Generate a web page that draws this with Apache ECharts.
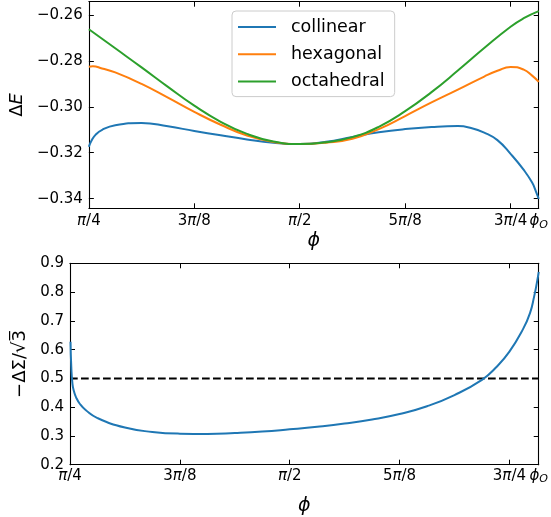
<!DOCTYPE html>
<html><head><meta charset="utf-8">
<script src="https://cdn.jsdelivr.net/npm/echarts@6/dist/echarts.min.js"></script>
<style>html,body{margin:0;padding:0;background:#fff}#c{width:551px;height:517px}</style>
</head><body><div id="c"></div><script>
// ---- data ----
const PHI_MIN = Math.PI / 4;
const PHI_O = 2.461;
const xTickValues = [Math.PI / 4, 3 * Math.PI / 8, Math.PI / 2, 5 * Math.PI / 8, 3 * Math.PI / 4, PHI_O];
const xTickLabels = ['π/4', '3π/8', 'π/2', '5π/8', '3π/4', 'ϕO'];
const topYTicks = [-0.34, -0.32, -0.30, -0.28, -0.26];
const botYTicks = [0.2, 0.3, 0.4, 0.5, 0.6, 0.7, 0.8, 0.9];
const seriesNames = ['collinear', 'hexagonal', 'octahedral'];

// top panel: collinear
const phiCol = [0.7854, 0.7950, 0.8100, 0.8350, 0.8836, 0.9817, 1.0799, 1.1781, 1.2763, 1.3744, 1.4726, 1.5708, 1.6690, 1.7671, 1.8653, 1.9635, 2.0617, 2.1598, 2.2089, 2.2580, 2.3071, 2.3562, 2.4053, 2.4364, 2.4511, 2.4610];
const collinear = [-0.3174, -0.3148, -0.3122, -0.3100, -0.3080, -0.3070, -0.3085, -0.3105, -0.3124, -0.3142, -0.3156, -0.3162, -0.3152, -0.3131, -0.3111, -0.3097, -0.3088, -0.3084, -0.3092, -0.3112, -0.3145, -0.3205, -0.3275, -0.3330, -0.3370, -0.3401];
// top panel: hexagonal
const phiHex = [0.7854, 0.8000, 0.8345, 0.8836, 0.9817, 1.0799, 1.1781, 1.2763, 1.3744, 1.4726, 1.5708, 1.6690, 1.7671, 1.8653, 1.9635, 2.0617, 2.1598, 2.2580, 2.3071, 2.3562, 2.4053, 2.4364, 2.4610];
const hexagonal = [-0.2825, -0.2823, -0.2833, -0.2850, -0.2900, -0.2960, -0.3022, -0.3078, -0.3125, -0.3153, -0.3162, -0.3156, -0.3139, -0.3097, -0.3040, -0.2981, -0.2925, -0.2868, -0.2843, -0.2826, -0.2838, -0.2864, -0.2891];
// top panel: octahedral
const phiOct = [0.7854, 0.8836, 0.9817, 1.0799, 1.1781, 1.2763, 1.3744, 1.4726, 1.5708, 1.6690, 1.7671, 1.8653, 1.9635, 2.0617, 2.1598, 2.2580, 2.3562, 2.4053, 2.4610];
const octahedral = [-0.2662, -0.2745, -0.2828, -0.2913, -0.2995, -0.3065, -0.3118, -0.3151, -0.3162, -0.3154, -0.3132, -0.3087, -0.3019, -0.2936, -0.2842, -0.2744, -0.2651, -0.2614, -0.2583];

// bottom panel
const phiBottom = [0.7872, 0.7900, 0.7943, 0.7996, 0.8067, 0.8209, 0.8423, 0.8836, 0.9817, 1.0799, 1.1781, 1.2763, 1.3744, 1.4726, 1.5708, 1.6690, 1.7671, 1.8653, 1.9635, 2.0617, 2.1598, 2.2580, 2.3071, 2.3562, 2.4053, 2.4298, 2.4447, 2.4540, 2.4610];
const sigma = [0.627, 0.540, 0.480, 0.455, 0.435, 0.411, 0.389, 0.362, 0.329, 0.314, 0.308, 0.307, 0.310, 0.315, 0.323, 0.332, 0.343, 0.357, 0.376, 0.403, 0.442, 0.495, 0.537, 0.593, 0.672, 0.727, 0.785, 0.830, 0.870];
const threshold = 0.5;

// ---- helpers ----
const FONT = 'DejaVu Sans';
const zip = (xs, ys) => xs.map((x, i) => [x, ys[i]]);
const richify = (s) => {
  if (s === 'ϕO') return '{p|ϕ}{s|O}';
  return s.split('').map(ch => ch === 'π' ? '{p|π}' : '{n|' + ch + '}').join('');
};
const xFmt = (v) => {
  for (let i = 0; i < xTickValues.length; i++) if (Math.abs(v - xTickValues[i]) < 1e-6) return richify(xTickLabels[i]);
  return '';
};
const xRich = {
  n: { fontFamily: FONT, fontSize: 15, color: '#000', lineHeight: 18 },
  p: { fontFamily: FONT, fontSize: 15, fontStyle: 'italic', color: '#000', lineHeight: 18 },
  s: { fontFamily: FONT, fontSize: 11, fontStyle: 'italic', color: '#000', lineHeight: 18, verticalAlign: 'bottom', padding: [6, 0, 0, 0] }
};
const tickStyle = { show: true, inside: true, length: 5, lineStyle: { color: '#000', width: 1 } };
const lineAx = { show: true, onZero: false, lineStyle: { color: '#000', width: 1.1 } };

function xAxes(grid, margin, nameGap) {
  return [{
    type: 'value', gridIndex: grid, min: PHI_MIN, max: PHI_O, position: 'bottom',
    axisLine: lineAx, splitLine: { show: false },
    axisTick: Object.assign({ customValues: xTickValues }, tickStyle),
    axisLabel: { customValues: xTickValues, formatter: xFmt, rich: xRich, margin: margin, hideOverlap: false },
    name: 'ϕ', nameLocation: 'middle', nameGap: nameGap,
    nameTextStyle: { fontFamily: FONT, fontStyle: 'italic', fontSize: 19, color: '#000' }
  }, {
    type: 'value', gridIndex: grid, min: PHI_MIN, max: PHI_O, position: 'top',
    axisLine: lineAx, splitLine: { show: false },
    axisTick: Object.assign({ customValues: xTickValues }, tickStyle),
    axisLabel: { show: false }
  }];
}

const lineSeries = (name, xs, ys, color) => ({
  name: name, type: 'line', xAxisIndex: 0, yAxisIndex: 0, data: zip(xs, ys),
  showSymbol: false, symbol: 'none', smooth: 0.5, color: color,
  lineStyle: { width: 2, color: color }
});

const chart = echarts.init(document.getElementById('c'), null, { renderer: 'canvas' });
chart.setOption({
  animation: false,
  backgroundColor: '#fff',
  grid: [
    { left: 87.7, top: 1.7, width: 454, height: 206.6 },
    { left: 70, top: 263.3, width: 471, height: 201.4 }
  ],
  xAxis: [].concat(xAxes(0, 4, 21), xAxes(1, 2, 32)),
  yAxis: [{
    type: 'value', gridIndex: 0, min: -0.3442, max: -0.2542, position: 'left',
    axisLine: lineAx, splitLine: { show: false },
    axisTick: Object.assign({ customValues: topYTicks }, tickStyle),
    axisLabel: { customValues: topYTicks, margin: 6, fontFamily: FONT, fontSize: 15, color: '#000',
      formatter: v => (v < 0 ? '\u2212' : '') + Math.abs(v).toFixed(2) },
    name: '{n|Δ}{i|E}', nameLocation: 'middle', nameRotate: 90, nameGap: 62,
    nameTextStyle: { rich: {
      n: { fontFamily: FONT, fontSize: 18, color: '#000' },
      i: { fontFamily: FONT, fontSize: 18, fontStyle: 'italic', color: '#000' } } }
  }, {
    type: 'value', gridIndex: 0, min: -0.3442, max: -0.2542, position: 'right',
    axisLine: lineAx, splitLine: { show: false },
    axisTick: Object.assign({ customValues: topYTicks }, tickStyle),
    axisLabel: { show: false }
  }, {
    type: 'value', gridIndex: 1, min: 0.2, max: 0.9, position: 'left',
    axisLine: lineAx, splitLine: { show: false },
    axisTick: Object.assign({ customValues: botYTicks }, tickStyle),
    axisLabel: { customValues: botYTicks, margin: 6, fontFamily: FONT, fontSize: 15, color: '#000',
      formatter: v => v.toFixed(1) },
    name: '\u2212ΔΣ/√3\u0305', nameLocation: 'middle', nameRotate: 90, nameGap: 36,
    nameTextStyle: { fontFamily: FONT, fontSize: 18, color: '#000' }
  }, {
    type: 'value', gridIndex: 1, min: 0.2, max: 0.9, position: 'right',
    axisLine: lineAx, splitLine: { show: false },
    axisTick: Object.assign({ customValues: botYTicks }, tickStyle),
    axisLabel: { show: false }
  }],
  legend: {
    data: seriesNames, orient: 'vertical', left: 232, top: 11,
    icon: 'rect', padding: [6, 10, 5, 6], itemWidth: 38, itemHeight: 2, itemGap: 7.3,
    backgroundColor: 'rgba(255,255,255,0.8)', borderColor: '#cccccc', borderWidth: 1, borderRadius: 4,
    textStyle: { fontFamily: FONT, fontSize: 17.5, lineHeight: 20, color: '#000', padding: [0, 0, 0, 10] }
  },
  series: [
    lineSeries('collinear', phiCol, collinear, '#1f77b4'),
    lineSeries('hexagonal', phiHex, hexagonal, '#ff7f0e'),
    lineSeries('octahedral', phiOct, octahedral, '#2ca02c'),
    { name: 'threshold', type: 'line', xAxisIndex: 2, yAxisIndex: 2, data: [[PHI_MIN, threshold], [PHI_O, threshold]],
      showSymbol: false, symbol: 'none', color: '#000', lineStyle: { width: 2, color: '#000', type: [7.7, 3.3] } },
    { name: 'sigma', type: 'line', xAxisIndex: 2, yAxisIndex: 2, data: zip(phiBottom, sigma),
      showSymbol: false, symbol: 'none', smooth: 0.5, color: '#1f77b4', lineStyle: { width: 2, color: '#1f77b4' } }
  ]
});
</script></body></html>
